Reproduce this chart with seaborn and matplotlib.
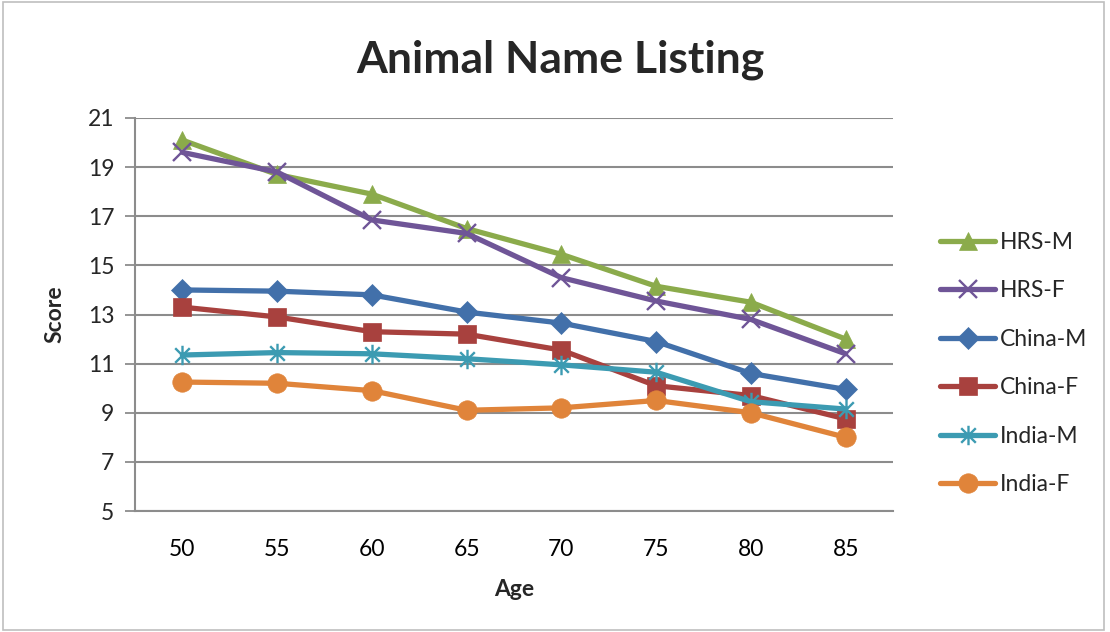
import matplotlib
matplotlib.use("Agg")
import matplotlib.pyplot as plt
from matplotlib.patches import Rectangle
from matplotlib.path import Path
from matplotlib.ticker import FixedLocator, NullFormatter
import seaborn as sns
import pandas as pd

ages = [50, 55, 60, 65, 70, 75, 80, 85]
series_names = ["HRS-M", "HRS-F", "China-M", "China-F", "India-M", "India-F"]
hrs_m = [20.1, 18.7, 17.9, 16.5, 15.45, 14.15, 13.5, 12.0]
hrs_f = [19.6, 18.8, 16.85, 16.3, 14.5, 13.55, 12.8, 11.4]
china_m = [14.0, 13.95, 13.8, 13.1, 12.65, 11.9, 10.6, 9.95]
china_f = [13.3, 12.9, 12.3, 12.2, 11.55, 10.1, 9.7, 8.75]
india_m = [11.35, 11.45, 11.4, 11.2, 10.95, 10.65, 9.45, 9.15]
india_f = [10.25, 10.2, 9.9, 9.1, 9.2, 9.5, 9.0, 8.0]
y_ticks = [5, 7, 9, 11, 13, 15, 17, 19, 21]

# asterisk: vertical stroke crossed by an X
asterisk = Path(
    [(0, -1), (0, 1), (-0.75, -0.75), (0.75, 0.75), (-0.75, 0.75), (0.75, -0.75)],
    [Path.MOVETO, Path.LINETO] * 3,
)

values = [hrs_m, hrs_f, china_m, china_f, india_m, india_f]
colors = ["#8BAB4B", "#6F5597", "#4270AA", "#A8413E", "#3C9BB2", "#E0843A"]
markers = ["^", "x", "D", "s", asterisk, "o"]
line_art = [False, True, False, False, True, False]
sizes = [13, 13, 11.5, 13, 14, 14]

df = pd.DataFrame({
    "Age": ages * len(series_names),
    "Score": sum(values, []),
    "Series": [n for n in series_names for _ in ages],
})

sns.set_theme(style="white")
plt.rcParams["font.family"] = ["Lato", "DejaVu Sans"]

fig = plt.figure(figsize=(11.1, 6.32), dpi=100)
ax = fig.add_axes([135 / 1110, 1 - 511 / 632, (893 - 135) / 1110, (511 - 118) / 632])

for name, col, mk, la, ms in zip(series_names, colors, markers, line_art, sizes):
    sub = df[df["Series"] == name]
    sns.lineplot(
        data=sub, x="Age", y="Score", ax=ax, color=col, linewidth=3.8,
        marker=mk, markersize=ms, markeredgecolor=col,
        markeredgewidth=1.7 if la else 0.5,
        label=name, zorder=3,
    )

ax.set_xlim(47.5, 87.5)
ax.set_ylim(5, 21)
ax.set_yticks(y_ticks)
ax.set_xticks(ages)
ax.xaxis.set_minor_locator(FixedLocator([47.5 + 5 * i for i in range(9)]))
ax.xaxis.set_minor_formatter(NullFormatter())
ax.tick_params(axis="x", which="major", length=0, labelsize=16.5, pad=20, colors="black")
ax.tick_params(axis="x", which="minor", length=7, width=1.3, color="#8C8C8C", direction="out")
ax.tick_params(axis="y", which="major", length=7, width=1.3, color="#8C8C8C",
               direction="out", labelsize=16.5, pad=8, left=True)
ax.grid(axis="y", color="#8C8C8C", linewidth=1.5)
ax.grid(axis="x", visible=False)
ax.set_axisbelow(True)
for side in ("top", "right"):
    ax.spines[side].set_visible(False)
for side in ("left", "bottom"):
    ax.spines[side].set_color("#8C8C8C")
    ax.spines[side].set_linewidth(1.5)

ax.set_xlabel("Age", fontsize=16.5, fontweight="bold", labelpad=14)
ax.set_ylabel("Score", fontsize=16.5, fontweight="bold", labelpad=16)

fig.text(560 / 1110, 1 - 60 / 632, "Animal Name Listing", ha="center", va="center",
         fontsize=32, fontweight="bold")

leg = ax.legend(loc="center left", bbox_to_anchor=(1.035, 0.375), frameon=False,
                fontsize=16.5, handlelength=2.4, labelspacing=1.2, handletextpad=0.2)

fig.patches.append(Rectangle((0.003, 0.003), 0.992, 0.994, transform=fig.transFigure,
                             fill=False, edgecolor="#BFBFBF", linewidth=1.2))

fig.savefig("out.png", dpi=100, facecolor="white")
